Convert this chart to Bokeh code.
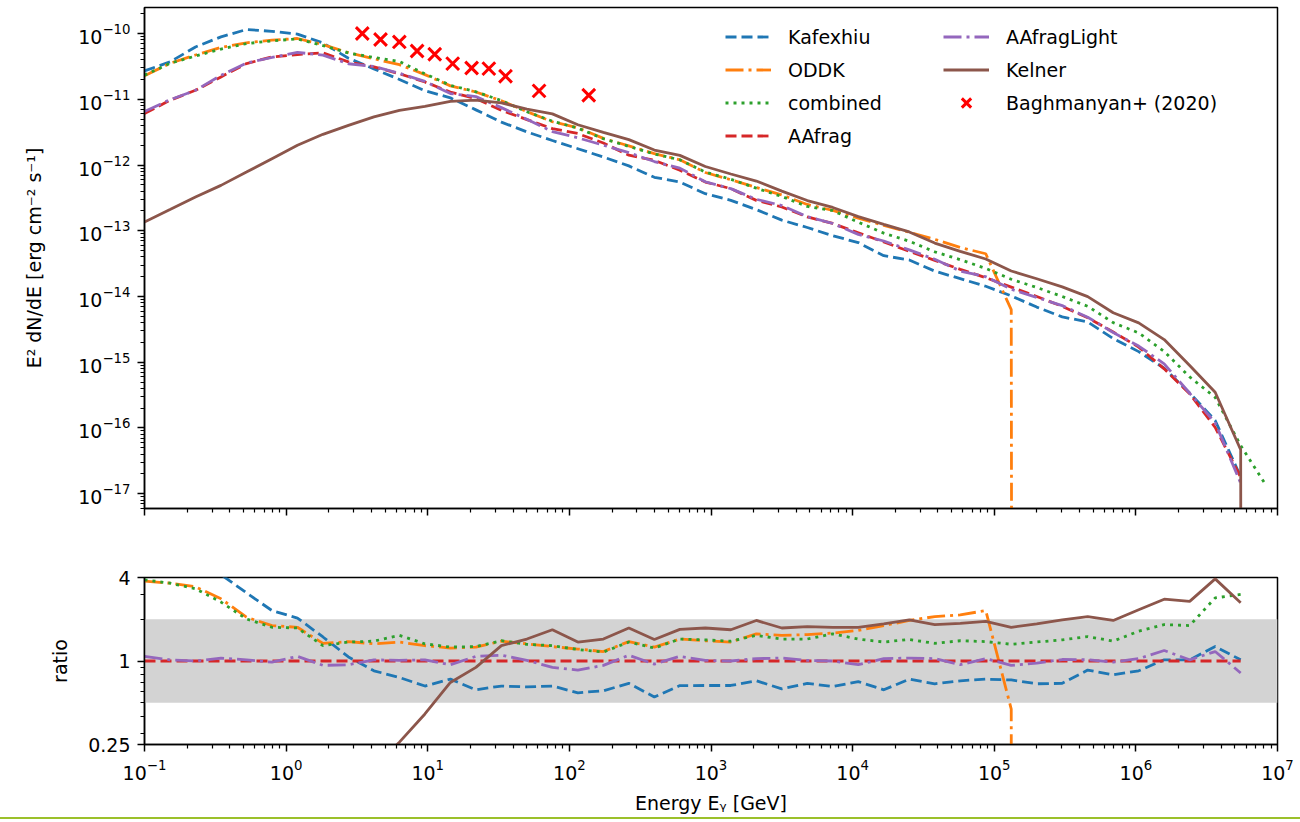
import numpy as np
from bokeh.plotting import figure
from bokeh.models import Range1d, FixedTicker, Legend, LegendItem, BoxAnnotation, NumeralTickFormatter, Spacer
from bokeh.layouts import column
from bokeh.embed import file_html
from bokeh.resources import INLINE

nan = float("nan")

# ---------------- data ----------------
energy_gev = [0.1, 0.1514, 0.2291, 0.3467, 0.5248, 0.7943, 1.202, 1.820, 2.754, 4.169,
              6.310, 9.550, 14.45, 21.88, 33.11, 50.12, 75.86, 114.8, 173.8, 263.0,
              398.1, 602.6, 912.0, 1380.0, 2089.0, 3162.0, 4786.0, 7244.0, 1.0965e4, 1.6596e4,
              2.5119e4, 3.8019e4, 5.7544e4, 8.7096e4, 1.3183e5, 1.9953e5, 3.0200e5, 4.5709e5, 6.9183e5, 1.0471e6,
              1.5849e6, 2.3988e6, 3.6308e6, 5.4954e6, 8.3176e6]

kafexhiu = [2.7e-11, 3.7e-11, 6.25e-11, 8.9e-11, 1.15e-10, 1.08e-10, 9.8e-11, 7.2e-11, 4.2e-11, 2.9e-11,
            2.0e-11, 1.35e-11, 1.05e-11, 6.9e-12, 4.5e-12, 3.19e-12, 2.36e-12, 1.77e-12, 1.32e-12, 9.7e-13,
            6.5e-13, 5.5e-13, 3.66e-13, 2.9e-13, 2.1e-13, 1.45e-13, 1.12e-13, 8.4e-14, 6.6e-14, 4.17e-14,
            3.6e-14, 2.43e-14, 1.87e-14, 1.43e-14, 1.02e-14, 6.9e-15, 4.9e-15, 4.1e-15, 2.29e-15, 1.45e-15,
            8.1e-16, 3.4e-16, 1.3e-16, 1.81e-17, nan]

oddk = [2.28e-11, 3.52e-11, 4.71e-11, 6.15e-11, 7.23e-11, 7.94e-11, 8.4e-11, 6.8e-11, 5.12e-11, 4.13e-11,
        3.36e-11, 2.37e-11, 1.6e-11, 1.29e-11, 9.5e-12, 6.5e-12, 4.55e-12, 3.68e-12, 2.54e-12, 1.95e-12,
        1.49e-12, 1.2e-12, 7.7e-13, 5.96e-13, 4.56e-13, 3.5e-13, 2.51e-13, 2.04e-13, 1.55e-13, 1.21e-13,
        9.5e-14, 7.4e-14, 5.57e-14, 4.47e-14, 6.3e-15, 0.0, 0.0, 0.0, 0.0, 0.0,
        0.0, 0.0, 0.0, 0.0, nan]

combined = [2.33e-11, 3.52e-11, 4.55e-11, 5.8e-11, 7.03e-11, 7.73e-11, 8.3e-11, 6.56e-11, 5.06e-11, 4.32e-11,
            3.75e-11, 2.44e-11, 1.63e-11, 1.3e-11, 9.55e-12, 6.46e-12, 4.64e-12, 3.64e-12, 2.51e-12, 1.92e-12,
            1.47e-12, 1.2e-12, 7.8e-13, 6.07e-13, 4.44e-13, 3.32e-13, 2.34e-13, 2.02e-13, 1.35e-13, 9.2e-14,
            6.93e-14, 4.78e-14, 3.63e-14, 2.67e-14, 1.83e-14, 1.37e-14, 1.0e-14, 7.1e-15, 4.0e-15, 2.79e-15,
            1.46e-15, 5.97e-16, 2.92e-16, 5.4e-17, 1.33e-17]

aafrag = [6.05e-12, 9.66e-12, 1.37e-11, 2.19e-11, 3.49e-11, 4.41e-11, 4.79e-11, 5.07e-11, 3.70e-11, 3.10e-11,
          2.45e-11, 1.83e-11, 1.29e-11, 1.02e-11, 6.81e-12, 4.91e-12, 3.58e-12, 3.01e-12, 2.16e-12, 1.41e-12,
          1.18e-12, 8.32e-13, 5.51e-13, 4.37e-13, 2.90e-13, 2.30e-13, 1.62e-13, 1.29e-13, 9.33e-14, 6.73e-14,
          4.85e-14, 3.55e-14, 2.59e-14, 1.93e-14, 1.39e-14, 1.0e-14, 7.08e-15, 4.75e-15, 2.88e-15, 1.70e-15,
          7.94e-16, 3.31e-16, 1.02e-16, 1.78e-17, nan]

aafrag_light = [6.53e-12, 9.84e-12, 1.37e-11, 2.31e-11, 3.56e-11, 4.32e-11, 5.16e-11, 4.7e-11, 3.47e-11, 3.16e-11,
                2.48e-11, 1.87e-11, 1.22e-11, 1.1e-11, 7.46e-12, 4.95e-12, 3.23e-12, 2.59e-12, 2.0e-12, 1.54e-12,
                1.13e-12, 8.97e-13, 5.56e-13, 4.37e-13, 3.01e-13, 2.42e-13, 1.64e-13, 1.29e-13, 8.8e-14, 6.98e-14,
                5.12e-14, 3.68e-14, 2.44e-14, 2.0e-14, 1.29e-14, 9.7e-15, 7.26e-15, 4.84e-15, 2.83e-15, 1.76e-15,
                9.46e-16, 3.37e-16, 1.2e-16, 1.45e-17, nan]

kelner = [1.36e-13, 2.1e-13, 3.26e-13, 4.9e-13, 7.8e-13, 1.25e-12, 2.0e-12, 2.93e-12, 4.0e-12, 5.4e-12,
          6.8e-12, 7.8e-12, 9.3e-12, 9.7e-12, 8.8e-12, 7.1e-12, 6.0e-12, 4.1e-12, 3.13e-12, 2.43e-12,
          1.69e-12, 1.40e-12, 9.5e-13, 7.3e-13, 5.7e-13, 4.0e-13, 2.88e-13, 2.26e-13, 1.64e-13, 1.25e-13,
          9.6e-14, 6.5e-14, 4.85e-14, 3.72e-14, 2.44e-14, 1.86e-14, 1.40e-14, 9.95e-15, 5.65e-15, 3.97e-15,
          2.21e-15, 8.9e-16, 3.5e-16, 4.67e-17, 0.0]

bagh_energy = [3.45, 4.64, 6.30, 8.41, 11.2, 15.0, 20.4, 27.0, 35.4, 61.1, 137.0]
bagh_flux = [1.0e-10, 8.1e-11, 7.45e-11, 5.43e-11, 4.84e-11, 3.49e-11, 2.99e-11, 2.93e-11, 2.24e-11, 1.34e-11, 1.15e-11]

# ratio to AAfrag (bottom panel)
ratio_kafexhiu = [4.4, 4.5, 4.6, 4.2, 3.1, 2.31, 2.04, 1.49, 1.07, 0.85,
                  0.76, 0.66, 0.74, 0.62, 0.66, 0.65, 0.66, 0.59, 0.61, 0.69,
                  0.55, 0.665, 0.666, 0.666, 0.72, 0.63, 0.69, 0.655, 0.71, 0.62,
                  0.74, 0.685, 0.72, 0.74, 0.73, 0.685, 0.69, 0.86, 0.795, 0.85,
                  1.02, 1.02, 1.27, 1.02, nan]
ratio_oddk = [3.76, 3.64, 3.43, 2.81, 2.07, 1.80, 1.75, 1.34, 1.38, 1.33,
              1.37, 1.29, 1.24, 1.26, 1.39, 1.33, 1.27, 1.22, 1.17, 1.38,
              1.26, 1.44, 1.40, 1.37, 1.57, 1.53, 1.55, 1.59, 1.66, 1.80,
              1.96, 2.09, 2.15, 2.31, 0.45, 0.0, 0.0, 0.0, 0.0, 0.0,
              0.0, 0.0, 0.0, 0.0, nan]
ratio_combined = [3.85, 3.64, 3.32, 2.66, 2.01, 1.75, 1.73, 1.29, 1.37, 1.39,
                  1.53, 1.33, 1.26, 1.27, 1.40, 1.32, 1.29, 1.21, 1.16, 1.37,
                  1.24, 1.44, 1.42, 1.39, 1.53, 1.44, 1.44, 1.57, 1.44, 1.37,
                  1.43, 1.34, 1.40, 1.38, 1.32, 1.37, 1.42, 1.50, 1.39, 1.64,
                  1.83, 1.80, 2.85, 3.02, nan]
ratio_light = [1.08, 1.02, 1.0, 1.05, 1.02, 0.98, 1.08, 0.93, 0.94, 1.02,
               1.01, 1.02, 0.94, 1.08, 1.10, 1.01, 0.90, 0.86, 0.93, 1.10,
               0.95, 1.08, 1.01, 1.0, 1.04, 1.05, 1.01, 1.0, 0.94, 1.04,
               1.05, 1.04, 0.94, 1.04, 0.93, 0.965, 1.025, 1.02, 0.98, 1.04,
               1.19, 1.02, 1.17, 0.82, nan]
ratio_kelner = [0.0224, 0.0217, 0.0238, 0.0224, 0.0224, 0.0284, 0.0417, 0.0578, 0.109, 0.173,
                0.26, 0.415, 0.70, 0.90, 1.29, 1.44, 1.68, 1.37, 1.44, 1.73,
                1.43, 1.69, 1.73, 1.68, 1.96, 1.73, 1.77, 1.75, 1.75, 1.85,
                1.98, 1.83, 1.87, 1.93, 1.75, 1.85, 1.98, 2.09, 1.96, 2.34,
                2.79, 2.69, 3.91, 2.63, nan]

x_major = [10.0 ** n for n in range(-1, 8)]
x_minor = [m * 10.0 ** n for n in range(-1, 7) for m in range(2, 10)]
y_major = [10.0 ** n for n in range(-17, -9)]
y_minor = [m * 10.0 ** n for n in range(-18, -9) for m in range(2, 10)]
ratio_major = [0.25, 1, 4]
ratio_minor = [0.3, 0.4, 0.5, 0.6, 0.7, 0.8, 0.9, 2, 3]

# ---------------- styling ----------------
FONT = "DejaVu Sans"
FS = "19px"
LW = 2.8
DASH = "11 5"
DASHDOT = "18 5 3 5"
DOT = "3 5"

styles = [
    ("Kafexhiu", "#1f77b4", DASH),
    ("ODDK", "#ff7f0e", DASHDOT),
    ("combined", "#2ca02c", DOT),
    ("AAfrag", "#d62728", DASH),
    ("AAfragLight", "#9467bd", DASHDOT),
    ("Kelner", "#8c564b", "solid"),
]


def clip(vals):
    a = np.array(vals, dtype=float)
    out = a.copy()
    out[(~np.isnan(a)) & (a <= 0)] = 1e-300  # like matplotlib's log clipping of zeros
    return out


def style_axes(fig):
    fig.xgrid.visible = False
    fig.ygrid.visible = False
    fig.outline_line_color = "black"
    fig.outline_line_width = 1.5
    fig.background_fill_color = "white"
    fig.border_fill_color = "white"
    for ax in fig.axis:
        ax.axis_line_color = "black"
        ax.axis_line_width = 1.5
        ax.major_tick_line_color = "black"
        ax.minor_tick_line_color = "black"
        ax.major_tick_line_width = 1.5
        ax.minor_tick_line_width = 1.2
        ax.major_tick_in = 0
        ax.major_tick_out = 7
        ax.minor_tick_in = 0
        ax.minor_tick_out = 4
        ax.major_label_standoff = 7
        ax.major_label_text_font = FONT
        ax.major_label_text_font_size = FS
        ax.major_label_text_color = "black"
        ax.axis_label_text_font = FONT
        ax.axis_label_text_font_size = FS
        ax.axis_label_text_font_style = "normal"
        ax.axis_label_text_color = "black"


x_range = Range1d(0.1, 1e7)

# ---------------- top panel ----------------
p = figure(x_axis_type="log", y_axis_type="log", x_range=x_range,
           y_range=Range1d(10 ** -17.225, 10 ** -9.604),
           frame_width=1133, frame_height=501,
           min_border_left=144, min_border_right=20, min_border_top=7, min_border_bottom=50,
           output_backend="svg", toolbar_location=None)
style_axes(p)
p.xaxis.ticker = FixedTicker(ticks=x_major, minor_ticks=x_minor)
p.yaxis.ticker = FixedTicker(ticks=y_major, minor_ticks=y_minor)
p.xaxis.major_label_text_alpha = 0
p.yaxis.axis_label = "E² dN/dE [erg cm⁻² s⁻¹]"
p.yaxis.axis_label_standoff = 30

top_series = [kafexhiu, oddk, combined, aafrag, aafrag_light, kelner]
renderers = {}
for (name, color, dash), vals in zip(styles, top_series):
    renderers[name] = p.line(energy_gev, clip(vals), line_color=color, line_width=LW, line_dash=dash)
r_bagh = p.scatter(bagh_energy, bagh_flux, marker="x", size=18, line_color="red", line_width=3)

legend_common = dict(glyph_width=46, glyph_height=33, label_height=33, spacing=0, padding=0, margin=0,
                     label_standoff=17, label_text_font=FONT, label_text_font_size=FS,
                     label_text_color="black", border_line_alpha=0, background_fill_alpha=0)
leg1 = Legend(items=[LegendItem(label=n, renderers=[renderers[n]]) for n in ["Kafexhiu", "ODDK", "combined", "AAfrag"]],
              location=(581, 356), **legend_common)
leg2 = Legend(items=[LegendItem(label="AAfragLight", renderers=[renderers["AAfragLight"]]),
                     LegendItem(label="Kelner", renderers=[renderers["Kelner"]]),
                     LegendItem(label="Baghmanyan+ (2020)", renderers=[r_bagh])],
              location=(799, 389), **legend_common)
p.add_layout(leg1)
p.add_layout(leg2)

# ---------------- ratio panel ----------------
b = figure(x_axis_type="log", y_axis_type="log", x_range=x_range, y_range=Range1d(0.25, 4),
           frame_width=1133, frame_height=167,
           min_border_left=144, min_border_right=20, min_border_top=19, min_border_bottom=73,
           output_backend="svg", toolbar_location=None)
style_axes(b)
b.xaxis.ticker = FixedTicker(ticks=x_major, minor_ticks=x_minor)
b.yaxis.ticker = FixedTicker(ticks=ratio_major, minor_ticks=ratio_minor)
b.yaxis.formatter = NumeralTickFormatter(format="0.[00]")
b.yaxis.axis_label = "ratio"
b.yaxis.axis_label_standoff = 14
b.xaxis.axis_label = "Energy Eᵧ [GeV]"
b.xaxis.axis_label_standoff = 9

b.add_layout(BoxAnnotation(bottom=0.5, top=2, fill_color="#d3d3d3", fill_alpha=1.0,
                           line_color=None, level="underlay"))

ratio_aafrag = list(np.array(aafrag) / np.array(aafrag))
ratio_series = [ratio_kafexhiu, ratio_oddk, ratio_combined, ratio_aafrag, ratio_light, ratio_kelner]
for (name, color, dash), vals in zip(styles, ratio_series):
    b.line(energy_gev, clip(vals), line_color=color, line_width=LW, line_dash=dash)

rule = Spacer(width=1300, height=2, styles={"background-color": "#9bc02a"})

layout = column(p, b, rule)
open("out.html", "w").write(file_html(layout, INLINE))
